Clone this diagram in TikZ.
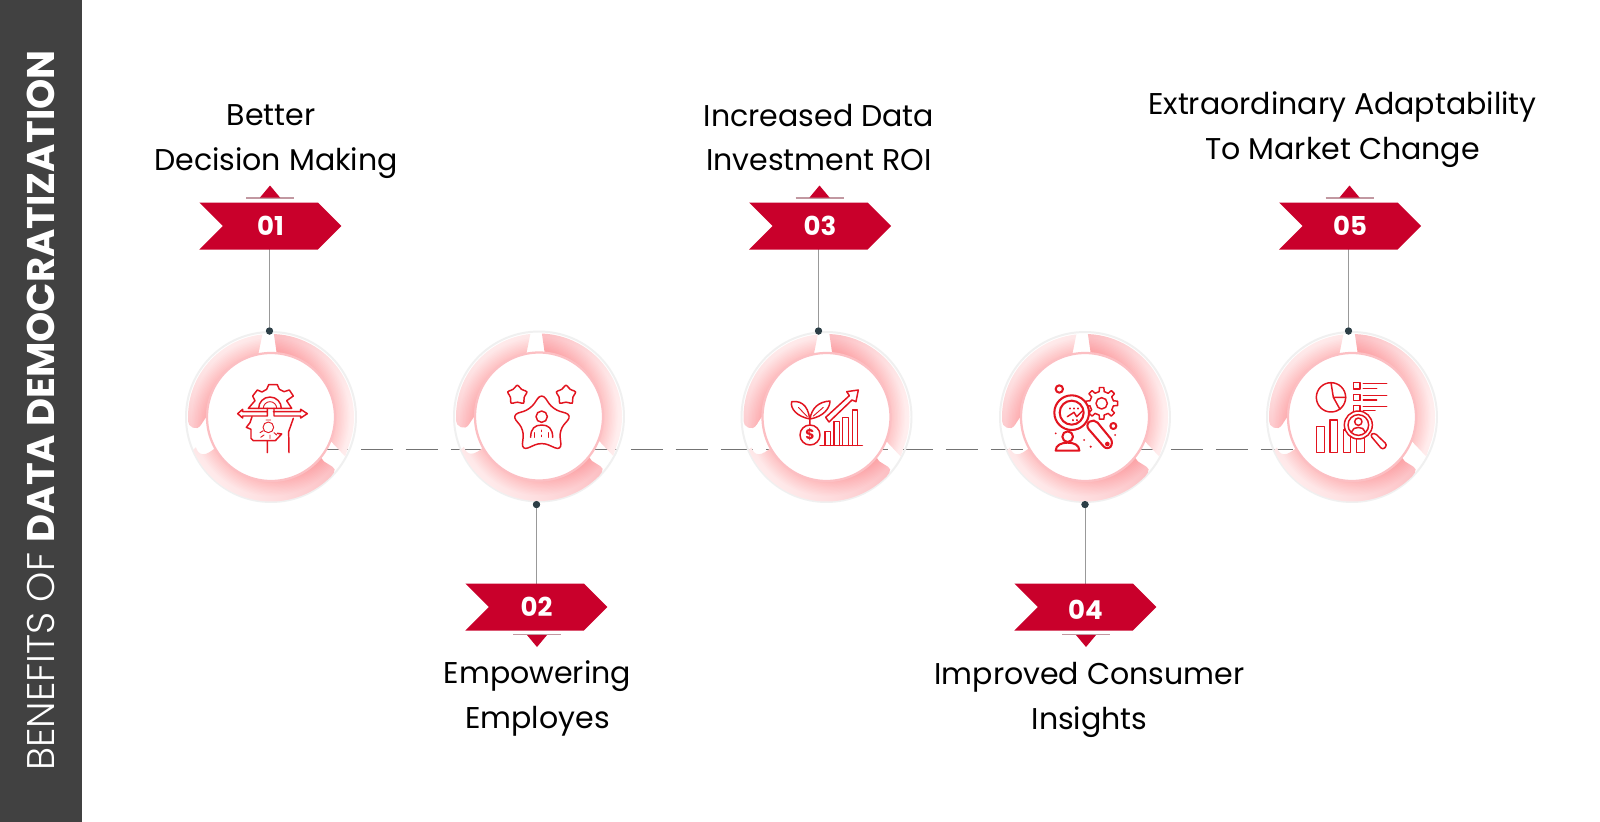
\documentclass[tikz,border=0pt]{standalone}
\usepackage{fontspec}
\setmainfont{Poppins}
\newfontfamily\poplight{Poppins Light}
\definecolor{barg}{HTML}{414141}
\definecolor{chevr}{HTML}{C9002B}
\definecolor{icr}{HTML}{E2141F}
\definecolor{dotc}{HTML}{2C3E46}
\definecolor{pale}{HTML}{FFF1F1}
\definecolor{deep}{HTML}{FCBFC3}
\tikzset{
  x=.025cm,y=-.025cm,
  caption/.style={font=\fontsize{21.35}{21}\selectfont,text=black,inner sep=0pt,anchor=center},
  numlabel/.style={font=\fontsize{18.5}{18}\selectfont\bfseries,text=white,inner sep=0pt},
  stem/.style={draw=black!40,line width=.6pt},
  dotn/.style={circle,fill=dotc,inner sep=0pt,minimum size=5pt},
  dashline/.style={draw=black!55,line width=.6pt,dash pattern=on 23pt off 9pt},
  icon/.style={draw=icr,line width=1.05pt,line join=round,line cap=round},
  iconthin/.style={draw=icr,line width=.65pt,line join=round,line cap=round},
  iconthick/.style={draw=icr,line width=1.45pt,line join=round,line cap=round},
}
\newcommand{\ringTL}{(96:83) arc[start angle=96,end angle=183,radius=83] .. controls (186:84) and (192:76) .. (186:70) -- (172:60) arc[start angle=172,end angle=103,radius=60] -- cycle}
\newcommand{\ringTR}{(88:83) arc[start angle=88,end angle=-16,radius=83] -- (-28:84) -- (-20:60) arc[start angle=-20,end angle=84,radius=60] -- cycle}
\newcommand{\ringB}{(202:81) .. controls (208:82) and (212:78) .. (208:60) arc[start angle=208,end angle=322,radius=60] -- (320:69) -- (321:79) .. controls (322:85) and (316:85) .. (312:84.5) arc[start angle=312,end angle=203,radius=84.5] -- cycle}
\newcommand{\glowon}[1]{\begin{scope}\clip #1;
  \foreach \w in {3,5,...,21}{\draw[red,opacity=.012,line width=\w pt] (0,0) circle[radius=64];}
  \end{scope}}
\newcommand{\ringat}[2]{\begin{scope}[shift={(#1,#2)},y=.025cm]
  \draw[black!6,line width=1.4pt] (0,0) circle[radius=85];
  \shade[left color=pale,right color=deep,shading angle=25] \ringTL;
  \shade[left color=pale,right color=deep,shading angle=265] \ringTR;
  \shade[left color=deep,right color=pale,shading angle=-45] \ringB;
  \glowon{\ringTL}\glowon{\ringTR}\glowon{\ringB}
  \fill[white] (0,0) circle[radius=64];
  \draw[deep,line width=1.6pt] (0,0) circle[radius=64];
  \end{scope}}
\newcommand{\chev}[2]{\fill[chevr] (#1,#2) -- ++(118.5,0) -- ++(23.5,23.5) -- ++(-23.5,23.5) -- ++(-118.5,0) -- ++(23.5,-23.5) -- cycle;}
\begin{document}
\begin{tikzpicture}
\useasboundingbox (0,0) rectangle (1600,822);
\fill[white] (0,0) rectangle (1600,822);
\fill[barg] (0,0) rectangle (82,822);
\node[rotate=90,inner sep=0pt,text=white,font=\fontsize{27.4}{30}\selectfont] (title) at (41,410.5) {{\poplight BENEFITS OF }{\bfseries DATA DEMOCRATIZATION}};

\coordinate (l1) at (271,449); \coordinate (l5) at (1352,449);
\coordinate (b1) at (269.5,226); \coordinate (b2) at (536.5,607); \coordinate (b3) at (818.5,226);
\coordinate (b4) at (1085,607); \coordinate (b5) at (1348.5,226);
\node[dotn] (d1) at (269.5,331) {};
\node[dotn] (d2) at (536.5,504.5) {};
\node[dotn] (d3) at (818.5,331) {};
\node[dotn] (d4) at (1085,504.5) {};
\node[dotn] (d5) at (1348.5,331) {};

\draw[dashline] (l1) -- (l5);
\foreach \a/\b in {d1/b1,d2/b2,d3/b3,d4/b4,d5/b5}{\draw[stem] (\a) -- (\b);}

\ringat{271}{417}\ringat{539}{416.5}\ringat{826.5}{417}\ringat{1085}{417}\ringat{1352}{417}
\foreach \a in {d1,d2,d3,d4,d5}{\fill[dotc] (\a) circle[radius=3.6];}

\chev{199.3}{202.5}\chev{465.3}{583.5}\chev{749}{202.5}\chev{1014.3}{583.5}\chev{1279}{202.5}
\node[numlabel] (n1) at (270.5,226) {01};
\node[numlabel] (n2) at (536.5,607) {02};
\node[numlabel] (n3) at (820,225.5) {03};
\node[numlabel] (n4) at (1085.5,610) {04};
\node[numlabel] (n5) at (1350,225.5) {05};
\foreach \x in {270,819.5,1349.5}{
  \draw[chevr!35!gray!60,line width=1pt] (\x-24,198) -- (\x+24,198);
  \fill[chevr] (\x-10,197.5) -- (\x,185.5) -- (\x+10,197.5) -- cycle;}
\foreach \x in {537,1086}{
  \draw[chevr!35!gray!60,line width=1pt] (\x-24,634.5) -- (\x+24,634.5);
  \fill[chevr] (\x-10,635) -- (\x,647) -- (\x+10,635) -- cycle;}

\node[caption] (t1a) at (271,115) {Better};
\node[caption] (t1b) at (276,163.5) {Decision Making};
\node[caption] (t2a) at (537.5,676.5) {Empowering};
\node[caption] (t2b) at (537.5,721.5) {Employes};
\node[caption] (t3a) at (819,115.5) {Increased Data};
\node[caption] (t3b) at (819,160.5) {Investment ROI};
\node[caption] (t4a) at (1089.5,677) {Improved Consumer};
\node[caption] (t4b) at (1089.5,722) {Insights};
\node[caption] (t5a) at (1342.5,107) {Extraordinary Adaptability};
\node[caption] (t5b) at (1342.5,152.5) {To Market Change};

% icon 1
\begin{scope}[shift={(170,310)},x=.025cm/3,y=-.025cm/3]
 \draw[icon] (235,295) -- (255,272) -- (248,258) -- (262,240) -- (276,246) -- (290,238) -- (296,224) -- (322,224) -- (328,238) -- (342,245) -- (358,240) -- (370,258) -- (350,272) -- (365,295) -- cycle;
 \draw[icon] (266,295) arc[start angle=180,end angle=360,radius=34];
 \draw[iconthin] (280,295) arc[start angle=180,end angle=360,radius=20];
 \draw[icon] (290,305) -- (218,305) -- (218,298) -- (203,311) -- (218,324) -- (218,318) -- (292,318) -- (292,295);
 \draw[icon] (310,305) -- (392,305) -- (392,298) -- (412,311) -- (392,324) -- (392,318) -- (312,318) -- (312,295);
 \draw[icon] (246,320) -- (240,338) -- (229,352) -- (243,358) -- (243,385) -- (250,392) -- (316,392) -- (335,372) -- (322,370);
 \draw[icon] (292,393) -- (292,428) (370,325) -- (356,365) -- (357,428);
 \draw[iconthin] (295,352) circle[radius=16];
 \draw[iconthin] (288,330) -- (302,330) (270,368) -- (280,362) (272,382) -- (282,375) (300,385) -- (300,375) (320,375) -- (312,368);
\end{scope}

% icon 2
\begin{scope}[shift={(440,320)},x=.025cm/3,y=-.025cm/3]
 \draw[icon,rounded corners=5pt] (305,218) -- (339,268) -- (397,285) -- (358,330) -- (365,392) -- (305,366) -- (245,392) -- (252,330) -- (215,285) -- (271,268) -- cycle;
 \draw[icon,rounded corners=2.5pt] (232,190) -- (243,210) -- (266,214) -- (250,231) -- (254,254) -- (232,244) -- (210,254) -- (214,231) -- (198,214) -- (221,210) -- cycle;
 \draw[icon,rounded corners=2.5pt] (378,190) -- (389,210) -- (412,214) -- (396,231) -- (400,254) -- (378,244) -- (356,254) -- (360,231) -- (344,214) -- (367,210) -- cycle;
 \draw[icon] (305,290) circle[radius=17];
 \draw[icon] (272,352) .. controls (272,325) and (285,315) .. (305,315) .. controls (325,315) and (338,325) .. (338,352);
 \draw[iconthin] (284,352) -- (284,338) (326,352) -- (326,338) (305,330) -- (305,335) (305,345) -- (305,350);
\end{scope}

% icon 3
\begin{scope}[shift={(730,320)},x=.025cm/3,y=-.025cm/3]
 \draw[icon] (270,376) -- (397,376);
 \draw[icon] (285,376) -- (285,335) -- (302,335) -- (302,376);
 \draw[icon] (312,376) -- (312,305) -- (328,305) -- (328,376);
 \draw[icon] (338,376) -- (338,292) -- (355,292) -- (355,376);
 \draw[icon] (367,376) -- (367,270) -- (383,270) -- (383,376);
 \draw[icon] (240,345) circle[radius=30];
 \node[inner sep=0pt,text=icr,font=\fontsize{10}{10}\selectfont\bfseries] (dollar) at (240,345) {\$};
 \draw[icon] (240,297) .. controls (200,290) and (180,265) .. (185,245) .. controls (220,240) and (240,265) .. (240,315);
 \draw[icon] (240,297) .. controls (280,290) and (300,265) .. (300,243) .. controls (265,245) and (245,265) .. (240,297);
 \draw[iconthin] (205,262) -- (232,290) (280,262) -- (250,288);
 \draw[icon] (297,306) -- (366,240) -- (378,245) -- (385,210) -- (350,215) -- (358,227) -- (287,292) -- cycle;
\end{scope}

% icon 4
\begin{scope}[shift={(990,320)},x=.025cm/3,y=-.025cm/3]
 \begin{scope}[shift={(335,250)}]
  \foreach \a in {0,45,...,315}{
   \draw[icon] (\a-12:36) -- (\a-8:48) -- (\a+8:48) -- (\a+12:36) -- (\a+33:36);}
  \draw[icon] (0,0) circle[radius=17];
 \end{scope}
 \draw[iconthick,fill=white,rounded corners=4pt] (285,315) -- (312,295) -- (372,368) -- (352,392) -- cycle;
 \fill[icr] (352,372) circle[radius=7];
 \draw[iconthick,fill=white] (245,278) circle[radius=52];
 \draw[iconthick] (245,278) circle[radius=36];
 \draw[icon] (232,290) -- (252,277) -- (260,290) -- (280,270);
 \draw[iconthick] (240,265) -- (240,266) (252,265) -- (252,266) (264,265) -- (264,266) (250,300) -- (250,301) (262,300) -- (262,301) (272,300) -- (272,301);
 \draw[iconthick] (208,207) circle[radius=11] (370,318) circle[radius=9];
 \draw[iconthick,fill=white] (233,350) circle[radius=16];
 \draw[iconthick,fill=white] (197,392) .. controls (197,375) and (215,368) .. (233,368) .. controls (252,368) and (268,375) .. (268,392) -- cycle;
 \fill[icr] (302,380) circle[radius=3.5] (282,360) circle[radius=3] (197,340) circle[radius=3] (375,345) circle[radius=3];
\end{scope}

% icon 5
\begin{scope}[shift={(1260,320)},x=.025cm/3,y=-.025cm/3]
 \draw[icon] (213,232) circle[radius=44];
 \draw[icon] (213,188) -- (220,232) -- (257,232) (220,232) -- (240,268);
 \draw[icon] (280,188) rectangle (300,207) (280,223) rectangle (300,242) (280,257) rectangle (300,276);
 \draw[icon] (310,190) -- (380,190) (310,205) -- (350,205) (310,226) -- (380,226) (310,240) -- (350,240) (310,260) -- (380,260) (310,272) -- (345,272);
 \draw[icon] (170,320) rectangle (193,398) (210,300) rectangle (232,398) (250,330) rectangle (272,398) (290,340) rectangle (313,398);
 \draw[icon,fill=white] (295,315) circle[radius=42];
 \draw[icon] (295,315) circle[radius=31];
 \draw[icon] (295,305) circle[radius=11];
 \draw[icon] (275,335) .. controls (278,318) and (312,318) .. (315,335);
 \draw[icon,fill=white,rounded corners=2pt] (330,345) -- (343,338) -- (382,375) -- (368,390) -- cycle;
\end{scope}
\end{tikzpicture}
\end{document}
